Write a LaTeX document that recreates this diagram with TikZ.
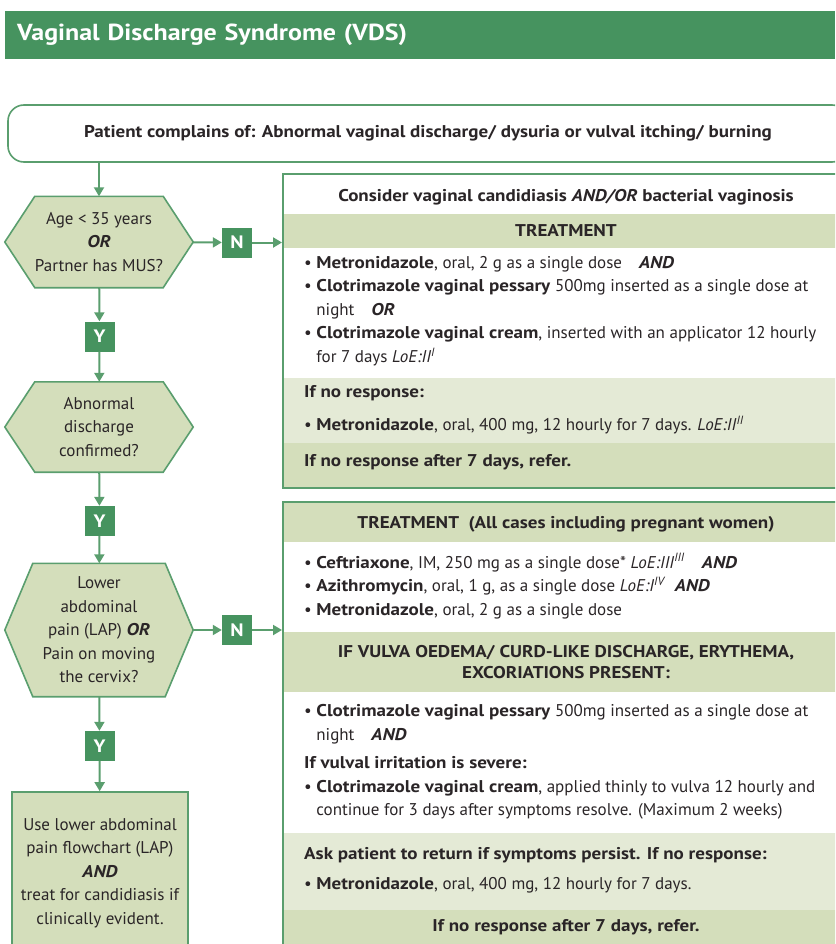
\documentclass[tikz,border=0pt]{standalone}
\usepackage{fontspec}
\setmainfont{PT Sans}[BoldFeatures={FakeStretch=1.12}, BoldItalicFeatures={FakeStretch=1.12}]
\usetikzlibrary{positioning,arrows.meta,backgrounds}

\definecolor{vdsgreen}{HTML}{46935F}
\definecolor{vdsline}{HTML}{5A9E6E}
\definecolor{vdsfill}{HTML}{D4DEBB}
\definecolor{vdspale}{HTML}{E4EAD6}
\definecolor{vdstext}{HTML}{2A2527}

\newcommand{\bul}{\textbullet\ }
\newcommand{\ind}{\hphantom{\textbullet\ }}
\newcommand{\loe}[2]{\textit{LoE:#1}\textsuperscript{\textit{#2}}}
\newcommand{\bi}[1]{\textbf{\textit{#1}}}
% hexagon round a decision node
\newcommand{\hexdraw}[2]{%
  \draw[hexline] (#1.west) -- ([xshift=#2]#1.north west) -- ([xshift=-#2]#1.north east)
    -- (#1.east) -- ([xshift=-#2]#1.south east) -- ([xshift=#2]#1.south west) -- cycle;}

\begin{document}
\begin{tikzpicture}[x=1pt,y=-1pt,
  every node/.style={text=vdstext, font=\fontsize{17}{23.5}\selectfont},
  hd/.style={font=\bfseries\fontsize{17}{23.5}\selectfont},
  flow/.style={vdsline, line width=2pt, -{Triangle[width=10pt,length=9pt]}},
  yn/.style={fill=vdsgreen, text=white, font=\bfseries\fontsize{18}{18}\selectfont,
    minimum width=30pt, minimum height=30pt, inner sep=0pt},
  hexa/.style={minimum width=188pt, align=center, inner sep=0pt},
  hexline/.style={draw=vdsline, fill=vdsfill, line width=1.6pt},
  panel/.style={draw=vdsline, line width=1.6pt, anchor=north west, inner sep=0pt},
  txt/.style={anchor=west, align=left, inner sep=0pt},
  ctr/.style={align=center, inner sep=0pt},
]
\useasboundingbox (0,0) rectangle (835,944);
\clip (0,0) rectangle (835,944);

% title bar
\node[fill=vdsgreen, anchor=west, minimum height=48pt, text width=806pt, align=left,
  inner xsep=12pt, text=white, font=\bfseries\fontsize{23.2}{23.2}\selectfont]
  (title) at (5,35) {Vaginal Discharge Syndrome (VDS)};

\node[draw=vdsline, line width=1.6pt, rounded corners=16pt, fill=white,
  minimum width=840pt, minimum height=57pt, hd]
  (complaint) at (428,133.5) {Patient complains of: Abnormal vaginal discharge/ dysuria or vulval itching/ burning};

% decisions on the left
\node[hexa, minimum height=91pt] (age) at (99,242) {Age < 35 years\\ \bi{OR}\\ Partner has MUS?};
\node[yn] (y1) at (99.5,336.5) {Y};
\node[hexa, minimum height=90pt] (disc) at (99,427) {Abnormal\\ discharge\\ confirmed?};
\node[yn] (y2) at (99.5,521) {Y};
\node[hexa, minimum height=133pt] (lap) at (99,630) {Lower\\ abdominal\\ pain (LAP) \bi{OR}\\ Pain on moving\\ the cervix?};
\node[yn] (y3) at (99.5,746) {Y};
\node[draw=vdsline, fill=vdsfill, line width=1.6pt, minimum width=176pt, minimum height=162pt,
  align=center, inner sep=0pt]
  (lapchart) at (100,873) {Use lower abdominal\\ pain flowchart (LAP)\\ \bi{AND}\\ treat for candidiasis if\\ clinically evident.};
\node[yn] (n1) at (237,242.5) {N};
\node[yn] (n2) at (237,630) {N};

\begin{scope}[on background layer]
  \foreach \h/\d in {age/30, disc/30, lap/28} {\hexdraw{\h}{\d}}
\end{scope}

% candidiasis / bacterial vaginosis panel
\fill[vdsfill] (282,214) rectangle (840,248);
\fill[vdspale] (282,378) rectangle (840,443);
\fill[vdsfill] (282,443) rectangle (840,487);
\node[panel, minimum width=560pt, minimum height=314pt] (cand) at (282,173) {};
\node[ctr, hd] (candhead) at (566,197) {Consider vaginal candidiasis \textit{AND/OR} bacterial vaginosis};
\node[ctr, hd] (candtreat) at (566,231) {TREATMENT};
\node[txt] (candrx) at (304,311) {\bul\textbf{Metronidazole}, oral, 2 g as a single dose\quad\bi{AND}\\
  \bul\textbf{Clotrimazole vaginal pessary} 500mg inserted as a single dose at\\
  \ind night\quad\bi{OR}\\
  \bul\textbf{Clotrimazole vaginal cream}, inserted with an applicator 12 hourly\\
  \ind for 7 days \loe{II}{I}};
\node[txt, hd] (candnr) at (304,393) {If no response:};
\node[txt] (candmet) at (304,425) {\bul\textbf{Metronidazole}, oral, 400 mg, 12 hourly for 7 days. \loe{II}{II}};
\node[txt, hd] (candref) at (304,462) {If no response after 7 days, refer.};

% treatment panel
\fill[vdsfill] (282,501) rectangle (840,542);
\fill[vdsfill] (282,632) rectangle (840,692);
\fill[vdspale] (282,833) rectangle (840,910);
\fill[vdsfill] (282,910) rectangle (840,960);
\node[panel, minimum width=560pt, minimum height=460pt] (treat) at (282,501) {};
\node[ctr, hd] (trhead) at (566,524) {TREATMENT\ \ (All cases including pregnant women)};
\node[txt] (trrx) at (304,586) {\bul\textbf{Ceftriaxone}, IM, 250 mg as a single dose* \loe{III}{III}\quad\bi{AND}\\
  \bul\textbf{Azithromycin}, oral, 1 g, as a single dose \loe{I}{IV}\ \ \bi{AND}\\
  \bul\textbf{Metronidazole}, oral, 2 g as a single dose};
\node[ctr, font=\bfseries\fontsize{17}{21.5}\selectfont] (vulva) at (566,662) {IF VULVA OEDEMA/ CURD-LIKE DISCHARGE, ERYTHEMA,\\ EXCORIATIONS PRESENT:};
\node[txt] (pess) at (304,724) {\bul\textbf{Clotrimazole vaginal pessary} 500mg inserted as a single dose at\\
  \ind night\quad\bi{AND}};
\node[txt, hd] (severe) at (304,763) {If vulval irritation is severe:};
\node[txt] (cream) at (304,800) {\bul\textbf{Clotrimazole vaginal cream}, applied thinly to vulva 12 hourly and\\
  \ind continue for 3 days after symptoms resolve. (Maximum 2 weeks)};
\node[txt, hd] (ask) at (304,855) {Ask patient to return if symptoms persist. If no response:};
\node[txt] (met4) at (304,885) {\bul\textbf{Metronidazole}, oral, 400 mg, 12 hourly for 7 days.};
\node[ctr, hd] (trref) at (566,927) {If no response after 7 days, refer.};

% connectors
\draw[flow] (complaint.south -| age.north) -- (age.north);
\draw[flow] (age) -- (y1);
\draw[flow] (y1) -- (disc);
\draw[flow] (disc) -- (y2);
\draw[flow] (y2) -- (lap);
\draw[flow] (lap) -- (y3);
\draw[flow] (y3) -- (lapchart);
\draw[flow] (age) -- (n1);
\draw[flow] (n1) -- (n1 -| cand.west);
\draw[flow] (lap) -- (n2);
\draw[flow] (n2) -- (n2 -| treat.west);
\end{tikzpicture}
\end{document}
